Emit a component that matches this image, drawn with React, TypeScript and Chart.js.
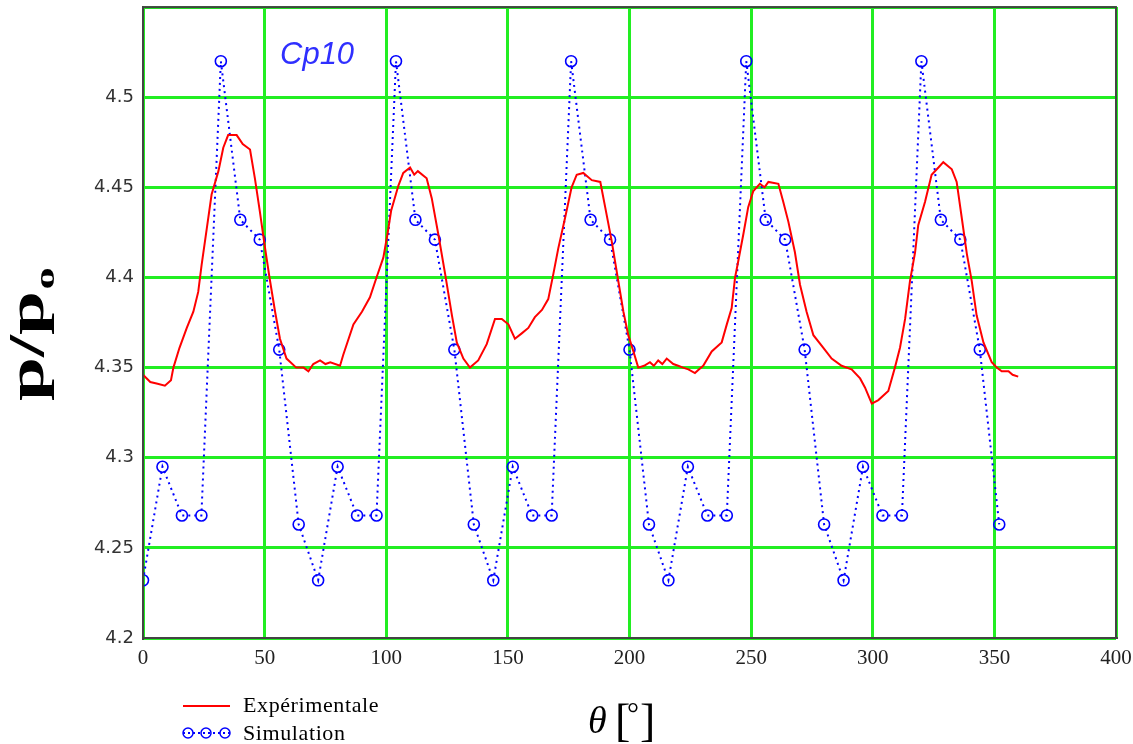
import React, { useEffect, useRef } from "react";
import { Chart, registerables } from "chart.js";

Chart.register(...registerables);

// Experimental curve (theta in degrees, p/p0)
const expTheta = [
  0, 3, 6, 9, 11.5, 12.5, 15, 18, 20.7, 22.7, 24.1, 26.2, 28.2, 31, 33, 35, 38.5, 41, 44, 46, 48, 50, 52, 54.3, 56.3, 59, 63, 66, 68, 70, 72.8, 75, 77, 81, 82.3, 86.5, 90, 93.3, 96, 98.8,
  100.5, 102, 105, 107, 109.8, 111.5, 113, 116.6, 118.7, 121.4, 124.2, 127, 129, 131.7, 134.4, 137.8, 141.3, 144.7, 147.5, 150.2, 152.9, 155.7, 158.4, 161.1, 164, 166.6, 168.7, 170.7, 173.5, 176.2, 178.3, 181, 184.5, 188, 190, 192.7, 195.4, 197.5, 199.5,
  201.6, 203.6, 206, 208.4, 210, 211.8, 213.5, 215.3, 218, 220, 222, 224.2, 226.9, 228.5, 230.3, 233.8, 237.9, 240, 242, 243.4, 244.7, 246.8, 248.8, 250.9, 253.6, 255.5, 257.1, 261.2, 263.2, 265.3, 268, 270.1, 272.8, 275.6, 279.7, 283.1, 287.2, 291.3, 294.8, 296.8, 299.6,
  302.3, 306.4, 309.1, 311.2, 313.3, 315.3, 317.4, 318.7, 321.5, 324.2, 327, 329, 332.5, 334.5, 336.6, 338.7, 340.7, 342.7, 345.5, 348.9, 351, 353, 355.8, 357.5, 359.8,
];
const expP = [
  4.346, 4.342, 4.341, 4.34, 4.343, 4.35, 4.361, 4.372, 4.381, 4.392, 4.407, 4.427, 4.446, 4.459, 4.472, 4.479, 4.479, 4.474, 4.471, 4.455, 4.437, 4.418, 4.4, 4.381, 4.366, 4.355, 4.35, 4.35, 4.348, 4.352, 4.354, 4.352, 4.353, 4.351, 4.357, 4.374, 4.381, 4.389, 4.4, 4.411,
  4.424, 4.437, 4.451, 4.458, 4.461, 4.457, 4.459, 4.455, 4.444, 4.424, 4.402, 4.379, 4.364, 4.355, 4.35, 4.354, 4.363, 4.377, 4.377, 4.374, 4.366, 4.369, 4.372, 4.378, 4.382, 4.388, 4.402, 4.416, 4.433, 4.45, 4.457, 4.458, 4.454, 4.453, 4.439, 4.42, 4.398, 4.381, 4.368,
  4.359, 4.35, 4.351, 4.353, 4.351, 4.354, 4.352, 4.355, 4.352, 4.351, 4.35, 4.349, 4.347, 4.349, 4.351, 4.359, 4.364, 4.374, 4.383, 4.4, 4.409, 4.424, 4.439, 4.448, 4.452, 4.45, 4.453, 4.452, 4.442, 4.431, 4.414, 4.396, 4.381, 4.368, 4.361, 4.355, 4.351, 4.349, 4.344, 4.339, 4.33,
  4.332, 4.337, 4.35, 4.361, 4.377, 4.398, 4.414, 4.429, 4.442, 4.457, 4.461, 4.464, 4.46, 4.453, 4.433, 4.413, 4.398, 4.379, 4.364, 4.353, 4.35, 4.348, 4.348, 4.346, 4.345,
];

// Simulation points
const simTheta = [
  0, 8, 16, 24, 32, 40, 48, 56, 64, 72, 80, 88, 96, 104, 112, 120, 128, 136, 144, 152, 160, 168, 176, 184, 192, 200, 208, 216, 224, 232, 240, 248, 256, 264, 272, 280, 288, 296, 304, 312, 320, 328, 336, 344, 352,
];
const simP = [
  4.232, 4.295, 4.268, 4.268, 4.52, 4.432, 4.421, 4.36, 4.263,
  4.232, 4.295, 4.268, 4.268, 4.52, 4.432, 4.421, 4.36, 4.263,
  4.232, 4.295, 4.268, 4.268, 4.52, 4.432, 4.421, 4.36, 4.263,
  4.232, 4.295, 4.268, 4.268, 4.52, 4.432, 4.421, 4.36, 4.263,
  4.232, 4.295, 4.268, 4.268, 4.52, 4.432, 4.421, 4.36, 4.263,
];

const xTicks = [0, 50, 100, 150, 200, 250, 300, 350, 400];
const yTicks = [4.2, 4.25, 4.3, 4.35, 4.4, 4.45, 4.5, 4.55];
const yTickLabels = ["4.2", "4.25", "4.3", "4.35", "4.4", "4.45", "4.5", ""];
const legendLabels = ["Expérimentale", "Simulation"];
const annotationText = "Cp10";

const decorPlugin = {
  id: "decor",
  afterDraw(chart: any) {
    const ctx = chart.ctx as CanvasRenderingContext2D;
    const a = chart.chartArea;
    ctx.save();
    // frame
    ctx.strokeStyle = "#444444";
    ctx.lineWidth = 2;
    ctx.strokeRect(a.left, a.top, a.right - a.left, a.bottom - a.top);

    // annotation
    ctx.fillStyle = "#2f2fff";
    ctx.font = "italic 31px 'Liberation Sans'";
    ctx.textBaseline = "alphabetic";
    ctx.textAlign = "left";
    ctx.fillText(annotationText, 280, 64);

    // y axis title p/p0 rotated
    ctx.save();
    ctx.translate(43, 401);
    ctx.rotate(-Math.PI / 2);
    ctx.scale(1.58, 1);
    ctx.fillStyle = "#000";
    ctx.font = "bold 50px 'Liberation Serif'";
    ctx.textAlign = "left";
    ctx.fillText("p/p", 0, 0);
    const w = ctx.measureText("p/p").width;
    ctx.font = "bold 28px 'Liberation Serif'";
    ctx.fillText("o", w + 1, 11);
    ctx.restore();

    // x axis title
    ctx.fillStyle = "#000";
    ctx.font = "italic 38px 'Liberation Serif'";
    ctx.textAlign = "left";
    ctx.fillText("\u03b8", 588, 733);
    ctx.font = "46px 'Liberation Serif'";
    ctx.fillText("[", 615, 736);
    ctx.fillText("]", 640, 736);
    ctx.font = "30px 'Liberation Serif'";
    ctx.fillText("\u00b0", 627, 723);

    // legend
    ctx.strokeStyle = "#ff0000";
    ctx.lineWidth = 2;
    ctx.setLineDash([]);
    ctx.beginPath();
    ctx.moveTo(183, 706);
    ctx.lineTo(230, 706);
    ctx.stroke();

    ctx.strokeStyle = "#0000ff";
    ctx.lineWidth = 2;
    ctx.setLineDash([2, 3]);
    ctx.beginPath();
    ctx.moveTo(183, 733);
    ctx.lineTo(230, 733);
    ctx.stroke();
    ctx.setLineDash([]);
    ctx.lineWidth = 1.5;
    [188, 206, 225].forEach((cx) => {
      ctx.beginPath();
      ctx.arc(cx, 733, 5, 0, Math.PI * 2);
      ctx.stroke();
    });

    ctx.fillStyle = "#000";
    ctx.font = "22px 'Liberation Serif'";
    (ctx as any).letterSpacing = "0.6px";
    ctx.textBaseline = "middle";
    ctx.fillText(legendLabels[0], 243, 706);
    ctx.fillText(legendLabels[1], 243, 734);
    ctx.restore();
  },
};

export default function App() {
  const ref = useRef<HTMLCanvasElement>(null);
  useEffect(() => {
    document.body.style.margin = "0";
    const canvas = ref.current!;
    const chart = new Chart(canvas, {
      type: "line",
      data: {
        datasets: [
          {
            label: legendLabels[0],
            data: expTheta.map((x, i) => ({ x, y: expP[i] })),
            borderColor: "#ff0000",
            borderWidth: 2,
            pointRadius: 0,
            tension: 0,
            fill: false,
          },
          {
            label: legendLabels[1],
            data: simTheta.map((x, i) => ({ x, y: simP[i] })),
            borderColor: "#0000ff",
            borderWidth: 2,
            borderDash: [2, 4],
            pointRadius: 5.5,
            pointBorderWidth: 1.6,
            pointBackgroundColor: "rgba(0,0,0,0)",
            pointBorderColor: "#0000ff",
            tension: 0,
            fill: false,
          },
        ],
      },
      options: {
        responsive: false,
        animation: false,
        layout: { padding: { top: 6, right: 17, left: 0, bottom: 0 } },
        plugins: {
          legend: { display: false },
          tooltip: { enabled: false },
          title: { display: false },
        },
        scales: {
          x: {
            type: "linear",
            min: 0,
            max: 400,
            afterBuildTicks: (s: any) => {
              s.ticks = xTicks.map((v) => ({ value: v }));
            },
            afterFit: (s: any) => {
              s.height = 106;
              s.paddingLeft = 0;
              s.paddingRight = 0;
            },
            grid: { color: "#22ee22", lineWidth: 3, drawTicks: false },
            border: { color: "#444444", width: 2 },
            ticks: {
              padding: 8,
              color: "#222",
              font: { family: "'Liberation Serif'", size: 21 },
              maxRotation: 0,
              callback: (v: any) => String(v),
            },
          },
          y: {
            type: "linear",
            min: 4.2,
            max: 4.55,
            afterBuildTicks: (s: any) => {
              s.ticks = yTicks.map((v) => ({ value: v }));
            },
            afterFit: (s: any) => {
              s.width = 143;
              s.paddingTop = 0;
              s.paddingBottom = 0;
            },
            grid: { color: "#22ee22", lineWidth: 3, drawTicks: false },
            border: { color: "#444444", width: 2 },
            ticks: {
              padding: 9,
              color: "#333",
              font: { family: "'DejaVu Sans'", size: 18 },
              callback: (_v: any, i: number) => yTickLabels[i] ?? "",
            },
          },
        },
      },
      plugins: [decorPlugin],
    });
    return () => chart.destroy();
  }, []);
  return <canvas ref={ref} width={1133} height={744} style={{ display: "block" }} />;
}
